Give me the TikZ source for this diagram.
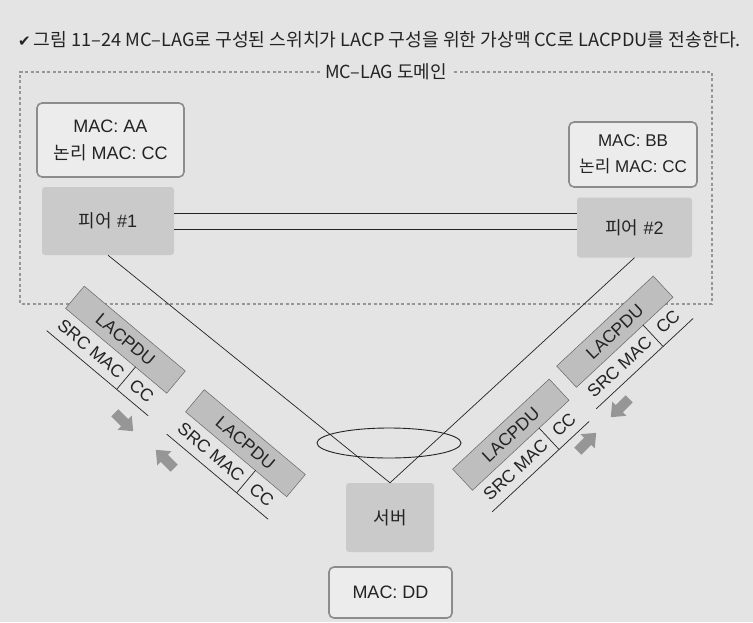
\documentclass[tikz,border=0pt]{standalone}
\usepackage{fontspec}
\setmainfont{Liberation Sans}
\newfontfamily\kr{Noto Sans CJK KR}
\newfontfamily\dejavu{DejaVu Sans}
\usetikzlibrary{shapes.geometric,calc}
\definecolor{bg}{RGB}{228,228,229}
\definecolor{peerfill}{RGB}{202,202,203}
\definecolor{barfill}{RGB}{190,190,190}
\definecolor{ink}{RGB}{35,35,35}
\definecolor{dashgray}{RGB}{150,150,150}
\definecolor{macborder}{RGB}{140,140,140}
\definecolor{macfill}{RGB}{236,236,236}
\definecolor{arrowgray}{RGB}{150,150,150}
\newcommand\labfont{\fontsize{18}{27}\selectfont}
\newcommand\pkfont{\fontsize{17.5}{20}\selectfont}
\tikzset{
 peerbox/.style={fill=peerfill, rounded corners=3, inner sep=0, font=\labfont, text=ink},
 macbox/.style={draw=macborder, line width=1.6, fill=macfill, rounded corners=5, align=center, inner sep=0, font=\labfont, text=ink},
 conn/.style={draw=ink, line width=0.7},
 dom/.style={draw=dashgray, line width=1.4, dash pattern=on 3 off 2.5},
 barbox/.style={fill=barfill, draw=gray!80!black, line width=0.5, minimum width=132, minimum height=29, inner sep=0, font=\pkfont, text=ink},
 cellbox/.style={minimum height=29, inner sep=0, font=\pkfont, text=ink},
 pktline/.style={draw=ink, line width=0.7},
}
% packet: name, x, y (centre of bottom line), angle
\newcommand\pkt[4]{%
 \begin{scope}[shift={(#2,#3)},rotate=#4,transform shape]
  \node[barbox] (#1bar) at (0,-43.5) {LACPDU};
  \node[cellbox,minimum width=91] (#1src) at (-20.5,-14.5) {SRC MAC};
  \node[cellbox,minimum width=41] (#1cc) at (45.5,-14.5) {CC};
  \draw[pktline] (#1src.south west) -- (#1cc.south east);
  \draw[pktline] (#1src.north east) -- (#1src.south east);
 \end{scope}}
% block arrow: x, y, angle
\newcommand\barrow[3]{%
 \fill[arrowgray, shift={(#1,#2)}, rotate=#3] (-13,-5) -- (1,-5) -- (1,-10) -- (13,0) -- (1,10) -- (1,5) -- (-13,5) -- cycle;}
\begin{document}
\begin{tikzpicture}[x=1pt,y=-1pt]
\fill[bg] (0,0) rectangle (753,622);
\useasboundingbox (0,0) rectangle (753,622);

% title
\node[anchor=west, inner sep=0, text=ink, font=\kr\fontsize{18.2}{20}\selectfont] (title) at (18,40)
 {{\dejavu\fontsize{15}{16}\selectfont ✔}\,그림 11–24 MC–LAG로 구성된 스위치가 LACP 구성을 위한 가상맥 CC로 LACPDU를 전송한다.};

% domain
\node[inner sep=5, text=ink, font=\kr\fontsize{18}{20}\selectfont] (dom) at (386,72) {MC–LAG 도메인};
\coordinate (d1) at (20,72);
\coordinate (d2) at (20,304);
\coordinate (d3) at (712,304);
\coordinate (d4) at (712,72);
\draw[dom] (dom.west) -- (d1) -- (d2) -- (d3) -- (d4) -- (dom.east);

% MAC boxes
\node[macbox, minimum width=147, minimum height=74] (macA) at (110.5,140) {MAC: AA\\{\kr 논리} MAC: CC};
\node[macbox, minimum width=128, minimum height=65, font=\fontsize{17}{26}\selectfont] (macB) at (633,154.5) {MAC: BB\\{\kr 논리} MAC: CC};

% peers
\node[peerbox, minimum width=132, minimum height=68] (p1) at (108,221) {{\kr 피어} \#1};
\node[peerbox, minimum width=115, minimum height=60] (p2) at (634.5,227.5) {{\kr 피어} \#2};

% peer link (double line)
\coordinate (l1) at (0,213);
\coordinate (l2) at (0,229);
\draw[conn, line width=0.6] (p1.east |- l1) -- (p2.west |- l1);
\draw[conn, line width=0.6] (p1.east |- l2) -- (p2.west |- l2);

% server
\node[peerbox, minimum width=88, minimum height=69] (srv) at (390,517.5) {{\kr 서버}};
\node[macbox, minimum width=123, minimum height=51] (macD) at (390.5,592.5) {MAC: DD};

% links to server
\draw[conn] (p1.south) -- (srv.north);
\draw[conn] (p2.south) -- (srv.north);
\node[ellipse, draw=ink, line width=0.9, minimum width=144, minimum height=30, inner sep=0] (lag) at (389,443) {};

% packets
\pkt{La}{97.5}{373}{-40}
\pkt{Lb}{217.5}{476.5}{-40}
\pkt{Ra}{644.5}{363.5}{43}
\pkt{Rb}{540.5}{466.5}{43}

% arrows
\barrow{124}{422}{-45}
\barrow{165}{459}{135}
\barrow{620}{408}{-135}
\barrow{587}{442}{45}
\end{tikzpicture}
\end{document}
